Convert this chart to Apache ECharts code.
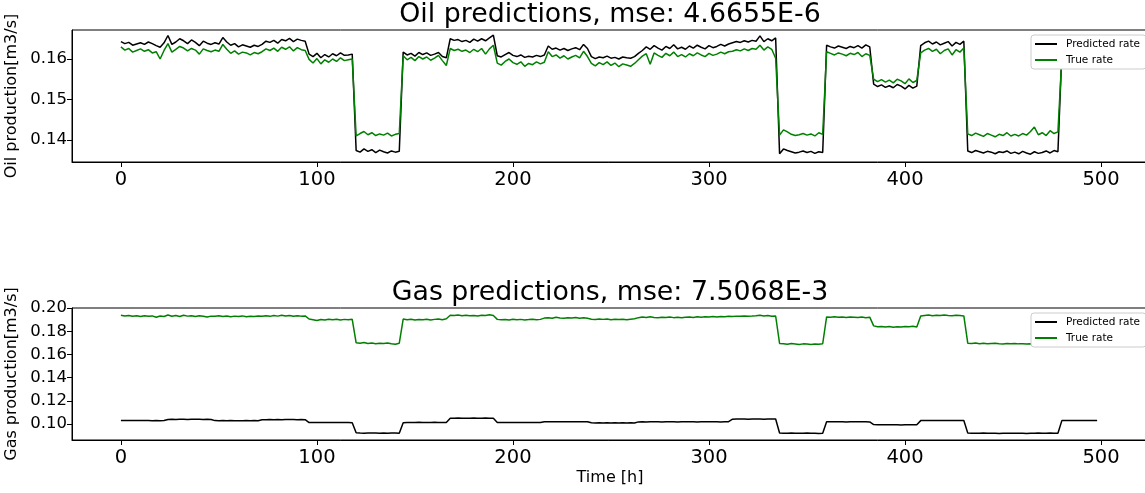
<!DOCTYPE html>
<html>
<head>
<meta charset="utf-8">
<script src="https://cdn.jsdelivr.net/npm/echarts@6/dist/echarts.min.js"></script>
<style>
  html, body { margin: 0; padding: 0; background: #fff; }
  #chart { width: 1145px; height: 493px; }
</style>
</head>
<body>
<div id="chart"></div>
<script>
// sampled every 2 h, one row = 24 h
const stepHours = 2

const oilPred = [
  0.1643, 0.1638, 0.1641, 0.1634, 0.1637, 0.1640, 0.1636, 0.1642, 0.1638, 0.1633, 0.1629, 0.1640,
  0.1658, 0.1636, 0.1642, 0.1650, 0.1645, 0.1638, 0.1647, 0.1641, 0.1633, 0.1644, 0.1639, 0.1636,
  0.1640, 0.1637, 0.1653, 0.1642, 0.1634, 0.1638, 0.1630, 0.1635, 0.1632, 0.1629, 0.1634, 0.1631,
  0.1636, 0.1644, 0.1641, 0.1646, 0.1639, 0.1648, 0.1645, 0.1651, 0.1643, 0.1649, 0.1646, 0.1644,
  0.1612, 0.1606, 0.1614, 0.1603, 0.1611, 0.1605, 0.1613, 0.1608, 0.1615, 0.1609, 0.1610, 0.1612,
  0.1374, 0.1370, 0.1378, 0.1372, 0.1376, 0.1369, 0.1375, 0.1371, 0.1368, 0.1373, 0.1370, 0.1372,
  0.1617, 0.1610, 0.1614, 0.1607, 0.1616, 0.1611, 0.1615, 0.1609, 0.1612, 0.1616, 0.1606, 0.1603,
  0.1650, 0.1646, 0.1648, 0.1643, 0.1646, 0.1641, 0.1649, 0.1644, 0.1650, 0.1645, 0.1652, 0.1659,
  0.1608, 0.1605, 0.1611, 0.1616, 0.1609, 0.1606, 0.1610, 0.1604, 0.1607, 0.1605, 0.1609, 0.1606,
  0.1610, 0.1632, 0.1624, 0.1627, 0.1622, 0.1626, 0.1621, 0.1625, 0.1628, 0.1623, 0.1636, 0.1626,
  0.1606, 0.1601, 0.1605, 0.1603, 0.1607, 0.1602, 0.1604, 0.1600, 0.1605, 0.1603, 0.1602, 0.1606,
  0.1614, 0.1621, 0.1630, 0.1624, 0.1633, 0.1627, 0.1622, 0.1631, 0.1626, 0.1635, 0.1625, 0.1629,
  0.1624, 0.1632, 0.1627, 0.1634, 0.1629, 0.1625, 0.1633, 0.1628, 0.1631, 0.1636, 0.1632, 0.1637,
  0.1640, 0.1643, 0.1641, 0.1645, 0.1642, 0.1646, 0.1644, 0.1657, 0.1643, 0.1650, 0.1645, 0.1652,
  0.1366, 0.1378, 0.1374, 0.1371, 0.1368, 0.1370, 0.1373, 0.1369, 0.1372, 0.1367, 0.1371, 0.1369,
  0.1634, 0.1630, 0.1627, 0.1632, 0.1629, 0.1626, 0.1631, 0.1628, 0.1633, 0.1627, 0.1635, 0.1630,
  0.1538, 0.1532, 0.1536, 0.1530, 0.1534, 0.1529, 0.1537, 0.1533, 0.1526, 0.1535, 0.1528, 0.1533,
  0.1633, 0.1640, 0.1644, 0.1637, 0.1642, 0.1635, 0.1639, 0.1643, 0.1632, 0.1641, 0.1636, 0.1644,
  0.1373, 0.1369, 0.1374, 0.1371, 0.1368, 0.1372, 0.1370, 0.1366, 0.1371, 0.1369, 0.1373, 0.1367,
  0.1370, 0.1366, 0.1372, 0.1368, 0.1365, 0.1371, 0.1367, 0.1369, 0.1373, 0.1368, 0.1374, 0.1371,
  0.1615, 0.1618, 0.1614, 0.1617, 0.1620, 0.1616, 0.1619, 0.1615, 0.1618, 0.1616
]

const oilTrue = [
  0.1630, 0.1622, 0.1626, 0.1617, 0.1621, 0.1625, 0.1619, 0.1623, 0.1615, 0.1618, 0.1600, 0.1621,
  0.1638, 0.1617, 0.1624, 0.1631, 0.1627, 0.1620, 0.1626, 0.1622, 0.1612, 0.1625, 0.1621, 0.1618,
  0.1622, 0.1619, 0.1636, 0.1624, 0.1614, 0.1620, 0.1612, 0.1617, 0.1615, 0.1610, 0.1616, 0.1613,
  0.1618, 0.1625, 0.1621, 0.1627, 0.1619, 0.1629, 0.1624, 0.1630, 0.1620, 0.1628, 0.1623, 0.1621,
  0.1599, 0.1590, 0.1601, 0.1588, 0.1598, 0.1592, 0.1600, 0.1594, 0.1603, 0.1596, 0.1598, 0.1600,
  0.1410, 0.1416, 0.1421, 0.1413, 0.1418, 0.1411, 0.1415, 0.1412, 0.1417, 0.1410, 0.1414, 0.1416,
  0.1608, 0.1598, 0.1604, 0.1596, 0.1606, 0.1600, 0.1605, 0.1597, 0.1602, 0.1609, 0.1596, 0.1584,
  0.1626, 0.1621, 0.1624, 0.1619, 0.1622, 0.1616, 0.1624, 0.1618, 0.1626, 0.1612, 0.1625, 0.1634,
  0.1590, 0.1585, 0.1594, 0.1600, 0.1591, 0.1587, 0.1593, 0.1582, 0.1589, 0.1586, 0.1593, 0.1588,
  0.1592, 0.1618, 0.1606, 0.1610, 0.1602, 0.1608, 0.1600, 0.1605, 0.1609, 0.1603, 0.1619, 0.1606,
  0.1589, 0.1583, 0.1591, 0.1586, 0.1593, 0.1584, 0.1590, 0.1581, 0.1588, 0.1585, 0.1582, 0.1589,
  0.1598, 0.1607, 0.1613, 0.1587, 0.1615, 0.1609, 0.1604, 0.1614, 0.1608, 0.1617, 0.1606, 0.1611,
  0.1605, 0.1613, 0.1608, 0.1615, 0.1610, 0.1606, 0.1614, 0.1609, 0.1612, 0.1617, 0.1613, 0.1618,
  0.1619, 0.1623, 0.1620, 0.1625, 0.1621, 0.1626, 0.1624, 0.1634, 0.1622, 0.1630, 0.1624, 0.1602,
  0.1412, 0.1425, 0.1420, 0.1414, 0.1411, 0.1413, 0.1416, 0.1412, 0.1415, 0.1410, 0.1418, 0.1414,
  0.1618, 0.1614, 0.1610, 0.1615, 0.1612, 0.1608, 0.1614, 0.1611, 0.1616, 0.1606, 0.1613, 0.1609,
  0.1550, 0.1544, 0.1549, 0.1543, 0.1548, 0.1541, 0.1550, 0.1546, 0.1539, 0.1551, 0.1542, 0.1547,
  0.1615, 0.1622, 0.1626, 0.1619, 0.1624, 0.1613, 0.1621, 0.1625, 0.1610, 0.1623, 0.1617, 0.1627,
  0.1415, 0.1411, 0.1417, 0.1413, 0.1409, 0.1416, 0.1412, 0.1408, 0.1414, 0.1411, 0.1418, 0.1410,
  0.1414, 0.1410, 0.1416, 0.1412, 0.1421, 0.1432, 0.1413, 0.1418, 0.1411, 0.1423, 0.1416, 0.1420,
  0.1604, 0.1608, 0.1602, 0.1606, 0.1610, 0.1603, 0.1607, 0.1601, 0.1605, 0.1608
]

const gasPred = [
  0.1030, 0.1031, 0.1030, 0.1031, 0.1030, 0.1030, 0.1031, 0.1030, 0.1029, 0.1030, 0.1029, 0.1031,
  0.1040, 0.1041, 0.1040, 0.1042, 0.1041, 0.1040, 0.1041, 0.1042, 0.1041, 0.1040, 0.1041, 0.1040,
  0.1030, 0.1029, 0.1030, 0.1029, 0.1030, 0.1029, 0.1028, 0.1029, 0.1030, 0.1029, 0.1030, 0.1029,
  0.1037, 0.1038, 0.1039, 0.1038, 0.1039, 0.1038, 0.1039, 0.1040, 0.1039, 0.1038, 0.1039, 0.1038,
  0.1013, 0.1014, 0.1013, 0.1014, 0.1013, 0.1014, 0.1013, 0.1014, 0.1013, 0.1014, 0.1013, 0.1012,
  0.0925, 0.0923, 0.0922, 0.0923, 0.0924, 0.0923, 0.0922, 0.0923, 0.0922, 0.0924, 0.0923, 0.0922,
  0.1012, 0.1014, 0.1013, 0.1014, 0.1015, 0.1014, 0.1013, 0.1014, 0.1015, 0.1014, 0.1013, 0.1014,
  0.1050, 0.1051, 0.1052, 0.1051, 0.1050, 0.1051, 0.1052, 0.1051, 0.1050, 0.1052, 0.1051, 0.1050,
  0.1014, 0.1013, 0.1014, 0.1013, 0.1014, 0.1013, 0.1014, 0.1013, 0.1014, 0.1013, 0.1014, 0.1013,
  0.1020, 0.1021, 0.1020, 0.1021, 0.1020, 0.1021, 0.1020, 0.1021, 0.1020, 0.1021, 0.1020, 0.1021,
  0.1011, 0.1010, 0.1011, 0.1010, 0.1011, 0.1010, 0.1011, 0.1010, 0.1011, 0.1010, 0.1011, 0.1010,
  0.1019, 0.1020, 0.1019, 0.1020, 0.1021, 0.1020, 0.1019, 0.1020, 0.1021, 0.1020, 0.1019, 0.1020,
  0.1020, 0.1021, 0.1020, 0.1019, 0.1020, 0.1021, 0.1020, 0.1021, 0.1020, 0.1019, 0.1020, 0.1021,
  0.1042, 0.1043, 0.1044, 0.1043, 0.1042, 0.1043, 0.1044, 0.1043, 0.1042, 0.1044, 0.1043, 0.1044,
  0.0923, 0.0921, 0.0922, 0.0923, 0.0922, 0.0921, 0.0922, 0.0923, 0.0921, 0.0922, 0.0920, 0.0921,
  0.1020, 0.1021, 0.1020, 0.1021, 0.1020, 0.1019, 0.1020, 0.1021, 0.1020, 0.1021, 0.1020, 0.1019,
  0.0996, 0.0995, 0.0994, 0.0995, 0.0994, 0.0995, 0.0994, 0.0993, 0.0994, 0.0995, 0.0994, 0.0995,
  0.1030, 0.1031, 0.1032, 0.1031, 0.1032, 0.1031, 0.1030, 0.1031, 0.1032, 0.1031, 0.1030, 0.1031,
  0.0923, 0.0922, 0.0921, 0.0922, 0.0923, 0.0922, 0.0921, 0.0922, 0.0920, 0.0922, 0.0921, 0.0922,
  0.0922, 0.0921, 0.0922, 0.0920, 0.0922, 0.0921, 0.0923, 0.0921, 0.0922, 0.0924, 0.0922, 0.0921,
  0.1030, 0.1031, 0.1032, 0.1031, 0.1030, 0.1031, 0.1032, 0.1031, 0.1030, 0.1031
]

const gasTrue = [
  0.1938, 0.1931, 0.1935, 0.1928, 0.1933, 0.1926, 0.1934, 0.1929, 0.1932, 0.1920, 0.1931, 0.1927,
  0.1940, 0.1929, 0.1936, 0.1927, 0.1938, 0.1930, 0.1934, 0.1926, 0.1933, 0.1929, 0.1922, 0.1930,
  0.1928, 0.1933, 0.1927, 0.1931, 0.1925, 0.1930, 0.1926, 0.1932, 0.1924, 0.1929, 0.1927, 0.1931,
  0.1929, 0.1934, 0.1928, 0.1936, 0.1930, 0.1938, 0.1931, 0.1935, 0.1929, 0.1933, 0.1930, 0.1932,
  0.1905, 0.1899, 0.1893, 0.1901, 0.1896, 0.1903, 0.1898, 0.1904, 0.1897, 0.1902, 0.1899, 0.1903,
  0.1700, 0.1696, 0.1702, 0.1694, 0.1698, 0.1693, 0.1697, 0.1695, 0.1699, 0.1692, 0.1688, 0.1697,
  0.1905, 0.1898, 0.1903, 0.1896, 0.1901, 0.1899, 0.1904, 0.1897, 0.1902, 0.1906, 0.1899, 0.1907,
  0.1938, 0.1935, 0.1939, 0.1933, 0.1937, 0.1934, 0.1936, 0.1932, 0.1938, 0.1935, 0.1941, 0.1936,
  0.1902, 0.1898, 0.1901, 0.1896, 0.1903, 0.1899, 0.1902, 0.1897, 0.1900, 0.1904, 0.1899, 0.1902,
  0.1913, 0.1917, 0.1912, 0.1920, 0.1914, 0.1911, 0.1916, 0.1913, 0.1918, 0.1912, 0.1915, 0.1911,
  0.1904, 0.1901, 0.1906, 0.1902, 0.1905, 0.1899, 0.1903, 0.1900, 0.1904, 0.1898, 0.1903, 0.1907,
  0.1917, 0.1922, 0.1918, 0.1924, 0.1919, 0.1916, 0.1921, 0.1918, 0.1923, 0.1917, 0.1920, 0.1916,
  0.1920, 0.1923, 0.1919, 0.1924, 0.1921, 0.1925, 0.1922, 0.1926, 0.1923, 0.1927, 0.1924, 0.1928,
  0.1927, 0.1930, 0.1928, 0.1932, 0.1929, 0.1931, 0.1934, 0.1938, 0.1932, 0.1935, 0.1929, 0.1931,
  0.1695, 0.1692, 0.1688, 0.1694, 0.1690, 0.1686, 0.1691, 0.1689, 0.1685, 0.1690, 0.1687, 0.1692,
  0.1923, 0.1921, 0.1924, 0.1920, 0.1922, 0.1919, 0.1923, 0.1921, 0.1918, 0.1922, 0.1917, 0.1921,
  0.1846, 0.1838, 0.1841, 0.1837, 0.1840, 0.1835, 0.1839, 0.1836, 0.1841, 0.1838, 0.1842, 0.1836,
  0.1932, 0.1936, 0.1939, 0.1934, 0.1938, 0.1935, 0.1940, 0.1936, 0.1933, 0.1937, 0.1935, 0.1932,
  0.1697, 0.1694, 0.1698, 0.1693, 0.1696, 0.1692, 0.1695, 0.1697, 0.1693, 0.1690, 0.1695, 0.1692,
  0.1694, 0.1691, 0.1693, 0.1689, 0.1692, 0.1690, 0.1694, 0.1691, 0.1693, 0.1690, 0.1692, 0.1689,
  0.1924, 0.1927, 0.1922, 0.1926, 0.1923, 0.1928, 0.1925, 0.1921, 0.1926, 0.1924
]

const timeTicks = [0, 100, 200, 300, 400, 500]
const oilTicks = [0.14, 0.15, 0.16]
const gasTicks = [0.10, 0.12, 0.14, 0.16, 0.18, 0.20]

const hours = oilPred.map((v, i) => i * stepHours)
const pairs = arr => arr.map((v, i) => [hours[i], v])

const FONT = 'DejaVu Sans'
const black = '#000000'
const green = '#008000'

let myChart = echarts.init(document.getElementById('chart'))

function xAxisOf(idx, name) {
  return {
    type: 'value',
    gridIndex: idx,
    min: -24.95,
    max: 523.95,
    name: name,
    nameLocation: 'middle',
    nameGap: 30,
    nameTextStyle: { fontFamily: FONT, fontSize: 16, color: '#000' },
    axisLine: { show: true, onZero: false, lineStyle: { color: '#000', width: 1 } },
    axisTick: { show: true, length: 5, customValues: timeTicks, lineStyle: { color: '#000' } },
    axisLabel: { customValues: timeTicks, fontFamily: FONT, fontSize: 19.5, color: '#000', margin: 8 },
    splitLine: { show: false }
  }
}

function yAxisOf(idx, min, max, ticks, name) {
  return {
    type: 'value',
    gridIndex: idx,
    min: min,
    max: max,
    name: name,
    nameLocation: 'middle',
    nameGap: 48,
    nameTextStyle: { fontFamily: FONT, fontSize: 16, color: '#000' },
    axisLine: { show: true, onZero: false, lineStyle: { color: '#000', width: 1 } },
    axisTick: { show: true, length: 5, customValues: ticks, lineStyle: { color: '#000' } },
    axisLabel: {
      customValues: ticks,
      fontFamily: FONT, fontSize: 16.5, color: '#000', margin: 5,
      formatter: v => v.toFixed(2)
    },
    splitLine: { show: false }
  }
}

function legendAt(top) {
  return {
    orient: 'vertical',
    left: 1031,
    top: top,
    data: ['Predicted rate', 'True rate'],
    icon: 'rect',
    itemWidth: 22,
    itemHeight: 2,
    itemGap: 2,
    padding: [2, 6, 2, 4],
    backgroundColor: '#ffffff',
    borderColor: '#cccccc',
    borderWidth: 1,
    borderRadius: 3,
    textStyle: { fontFamily: FONT, fontSize: 10.5, color: '#000', lineHeight: 14, padding: [0, 0, 0, 4] }
  }
}

function lineSeries(name, color, x, data) {
  return {
    name: name,
    type: 'line',
    xAxisIndex: x,
    yAxisIndex: x,
    data: pairs(data),
    showSymbol: false,
    symbol: 'none',
    lineStyle: { color: color, width: 1.5 },
    itemStyle: { color: color },
    z: color === green ? 3 : 2
  }
}

let option = {
  animation: false,
  backgroundColor: '#fff',
  grid: [
    { left: 72, top: 30, width: 1076, height: 132, outerBoundsMode: 'none', containLabel: false, show: true, borderColor: '#000', borderWidth: 1 },
    { left: 72, top: 308, width: 1076, height: 132, outerBoundsMode: 'none', containLabel: false, show: true, borderColor: '#000', borderWidth: 1 }
  ],
  xAxis: [xAxisOf(0, ''), xAxisOf(1, 'Time [h]')],
  yAxis: [
    yAxisOf(0, 0.13457, 0.16716, oilTicks, 'Oil production[m3/s]'),
    yAxisOf(1, 0.0863, 0.2000, gasTicks, 'Gas production[m3/s]')
  ],
  legend: [legendAt(35), legendAt(313)],
  graphic: [
    { type: 'text', x: 610, y: 15, style: { text: 'Oil predictions, mse: 4.6655E-6', font: '26.8px "DejaVu Sans"', fill: '#000', textAlign: 'center', textVerticalAlign: 'middle' } },
    { type: 'text', x: 610, y: 293, style: { text: 'Gas predictions, mse: 7.5068E-3', font: '26.8px "DejaVu Sans"', fill: '#000', textAlign: 'center', textVerticalAlign: 'middle' } }
  ],
  series: [
    lineSeries('Predicted rate', black, 0, oilPred),
    lineSeries('True rate', green, 0, oilTrue),
    lineSeries('Predicted rate', black, 1, gasPred),
    lineSeries('True rate', green, 1, gasTrue)
  ]
}
myChart.setOption(option)
</script>
</body>
</html>
